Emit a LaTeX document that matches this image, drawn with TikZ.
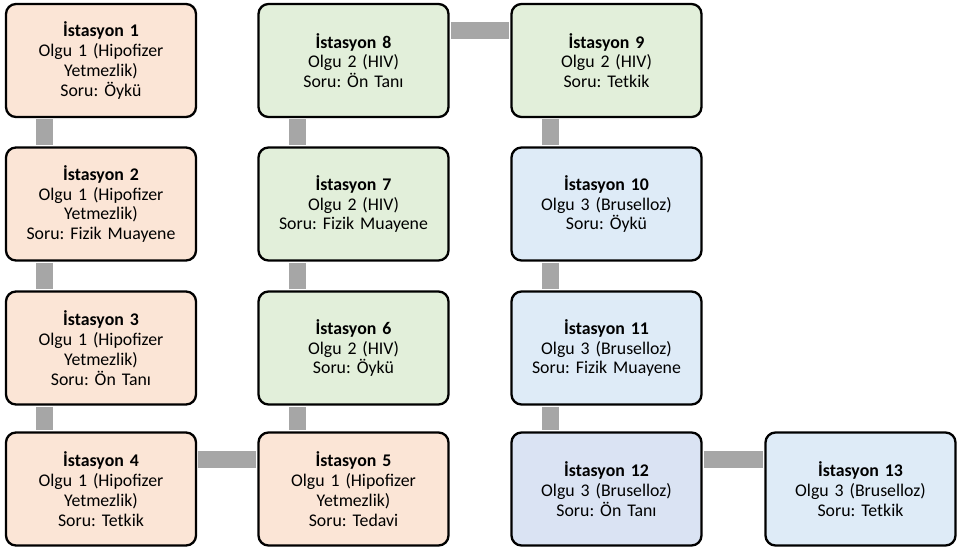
\documentclass[tikz,border=0pt]{standalone}
\usepackage{fontspec}
\setmainfont{Carlito}
\frenchspacing
\definecolor{orangefill}{HTML}{FBE5D6}
\definecolor{greenfill}{HTML}{E2EFDA}
\definecolor{bluefill}{HTML}{DEEBF7}
\definecolor{bluefillB}{HTML}{DAE3F3}
\definecolor{conngray}{HTML}{A6A6A6}
\tikzset{
  stationbox/.style={draw=black, line width=2.3pt, rounded corners=10pt,
    minimum width=190pt, minimum height=113pt, text width=186pt, align=center,
    inner sep=0pt, font=\fontsize{17.8pt}{19.8pt}\selectfont},
  orangebox/.style={stationbox, fill=orangefill},
  greenbox/.style={stationbox, fill=greenfill},
  bluebox/.style={stationbox, fill=bluefill},
  blueboxB/.style={stationbox, fill=bluefillB},
  conn/.style={draw=conngray, line width=17pt}
}
\begin{document}
\begin{tikzpicture}[x=1pt,y=1pt]
\useasboundingbox (0,0) rectangle (959,-548);
% nodes
\node[orangebox] (s1) at (101,-60.5) {\textbf{İstasyon 1}\\Olgu 1 (Hipofizer\\Yetmezlik)\\Soru: Öykü};
\node[orangebox] (s2) at (101,-204) {\textbf{İstasyon 2}\\Olgu 1 (Hipofizer\\Yetmezlik)\\Soru: Fizik Muayene};
\node[orangebox] (s3) at (101,-348) {\textbf{İstasyon 3}\\Olgu 1 (Hipofizer\\Yetmezlik)\\Soru: Ön Tanı};
\node[orangebox] (s4) at (101,-489) {\textbf{İstasyon 4}\\Olgu 1 (Hipofizer\\Yetmezlik)\\Soru: Tetkik};
\node[orangebox] (s5) at (353.5,-489) {\textbf{İstasyon 5}\\Olgu 1 (Hipofizer\\Yetmezlik)\\Soru: Tedavi};
\node[greenbox] (s6) at (353.5,-348) {\textbf{İstasyon 6}\\Olgu 2 (HIV)\\Soru: Öykü};
\node[greenbox] (s7) at (353.5,-204) {\textbf{İstasyon 7}\\Olgu 2 (HIV)\\Soru: Fizik Muayene};
\node[greenbox] (s8) at (353.5,-60.5) {\textbf{İstasyon 8}\\Olgu 2 (HIV)\\Soru: Ön Tanı};
\node[greenbox] (s9) at (606.5,-60.5) {\textbf{İstasyon 9}\\Olgu 2 (HIV)\\Soru: Tetkik};
\node[bluebox] (s10) at (606.5,-204) {\textbf{İstasyon 10}\\Olgu 3 (Bruselloz)\\Soru: Öykü};
\node[bluebox] (s11) at (606.5,-348) {\textbf{İstasyon 11}\\Olgu 3 (Bruselloz)\\Soru: Fizik Muayene};
\node[blueboxB] (s12) at (606.5,-489) {\textbf{İstasyon 12}\\Olgu 3 (Bruselloz)\\Soru: Ön Tanı};
\node[bluebox] (s13) at (860.5,-489) {\textbf{İstasyon 13}\\Olgu 3 (Bruselloz)\\Soru: Tetkik};
% connectors
\draw[conn] ([xshift=40pt,yshift=-1.2pt]s1.south west) -- ([xshift=40pt,yshift=1.2pt]s2.north west);
\draw[conn] ([xshift=40pt,yshift=-1.2pt]s2.south west) -- ([xshift=40pt,yshift=1.2pt]s3.north west);
\draw[conn] ([xshift=40pt,yshift=-1.2pt]s3.south west) -- ([xshift=40pt,yshift=1.2pt]s4.north west);
\draw[conn] ([xshift=1.2pt,yshift=-28pt]s4.north east) -- ([xshift=-1.2pt,yshift=-28pt]s5.north west);
\draw[conn] ([xshift=40pt,yshift=1.2pt]s5.north west) -- ([xshift=40pt,yshift=-1.2pt]s6.south west);
\draw[conn] ([xshift=40pt,yshift=1.2pt]s6.north west) -- ([xshift=40pt,yshift=-1.2pt]s7.south west);
\draw[conn] ([xshift=40pt,yshift=1.2pt]s7.north west) -- ([xshift=40pt,yshift=-1.2pt]s8.south west);
\draw[conn] ([xshift=1.2pt,yshift=-28pt]s8.north east) -- ([xshift=-1.2pt,yshift=-28pt]s9.north west);
\draw[conn] ([xshift=40pt,yshift=-1.2pt]s9.south west) -- ([xshift=40pt,yshift=1.2pt]s10.north west);
\draw[conn] ([xshift=40pt,yshift=-1.2pt]s10.south west) -- ([xshift=40pt,yshift=1.2pt]s11.north west);
\draw[conn] ([xshift=40pt,yshift=-1.2pt]s11.south west) -- ([xshift=40pt,yshift=1.2pt]s12.north west);
\draw[conn] ([xshift=1.2pt,yshift=-28pt]s12.north east) -- ([xshift=-1.2pt,yshift=-28pt]s13.north west);
\end{tikzpicture}
\end{document}
